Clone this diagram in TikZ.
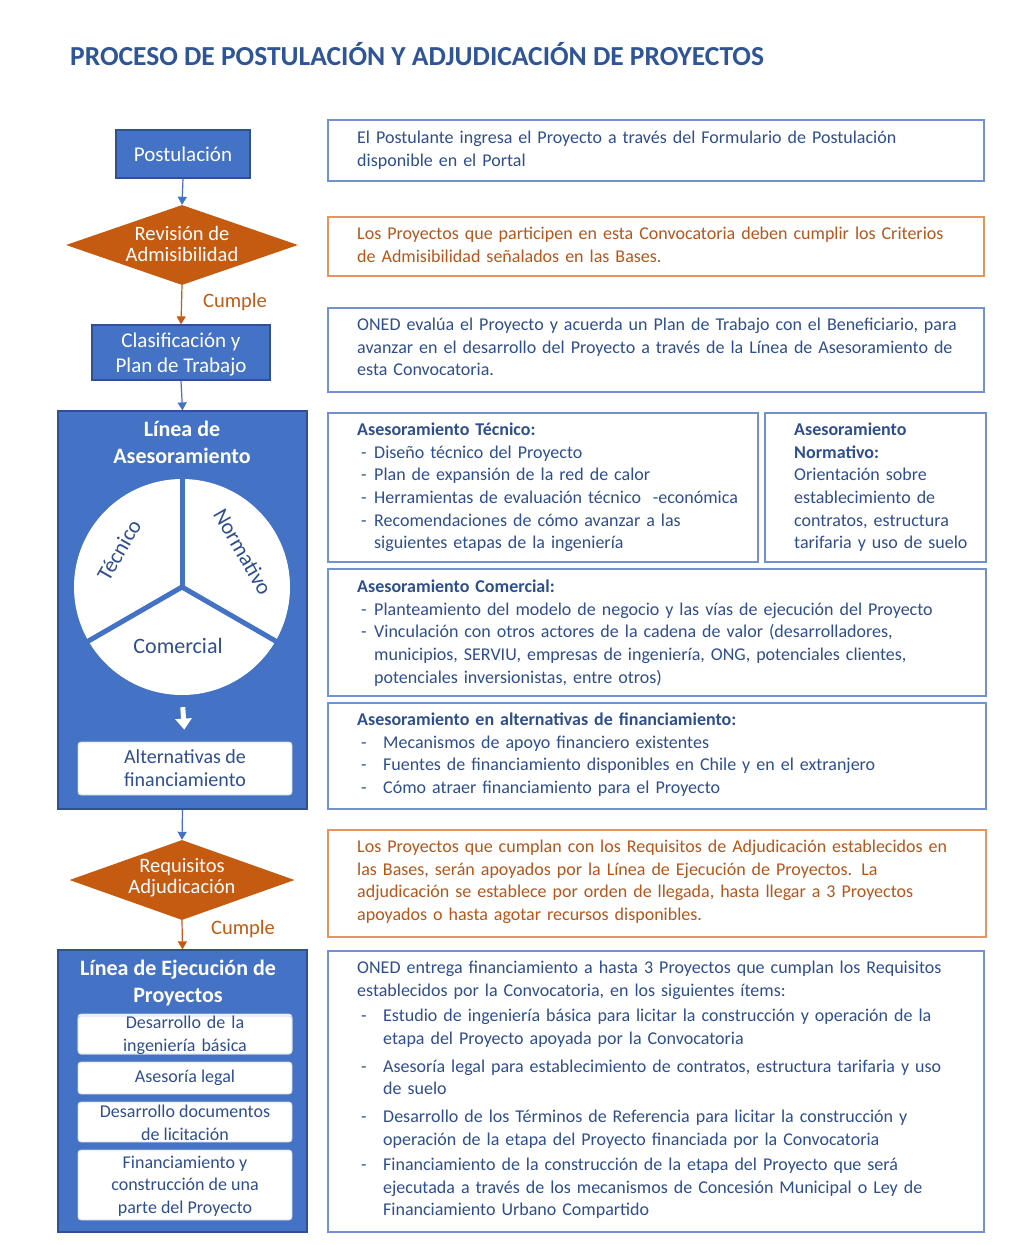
\documentclass[tikz,border=0pt]{standalone}
\usepackage{fontspec}
\setmainfont{Carlito}
\usetikzlibrary{shapes.geometric,arrows.meta,calc}
\definecolor{blu}{HTML}{4472C4}
\definecolor{bluedge}{HTML}{2F528F}
\definecolor{bluetxt}{HTML}{2F4E8E}
\definecolor{titl}{HTML}{2F5597}
\definecolor{org}{HTML}{C55A11}
\definecolor{orgtxt}{HTML}{B5561A}
\definecolor{rbline}{HTML}{7391CF}
\definecolor{orline}{HTML}{E39460}
\definecolor{wedge}{HTML}{C9D3E8}
\newcommand{\itm}[2]{\par\noindent\hangindent=#1\hangafter=1\makebox[#1][l]{\hspace{4pt}-}#2}
\newcommand{\nl}{\hfil\break}
\begin{document}
\begin{tikzpicture}[x=1pt,y=-1pt,
  bluebox/.style={rectangle, draw=bluedge, line width=1.2, fill=blu, text=white, align=center, inner sep=0, font=\fontsize{21}{24.5}\selectfont},
  dec/.style={diamond, fill=org, inner sep=0},
  dectext/.style={text=white, align=center, inner sep=0, font=\fontsize{20.5}{21}\selectfont},
  bigbox/.style={rectangle, draw=bluedge, line width=1.2, fill=blu, inner sep=0},
  bigtitle/.style={text=white, align=center, inner sep=0, font=\bfseries\fontsize{22}{27}\selectfont},
  wbox/.style={rectangle, rounded corners=3, fill=white, draw=wedge, line width=0.8, text=bluetxt, align=center, inner sep=0, font=\fontsize{18}{22.6}\selectfont, minimum width=214},
  rboxb/.style={rectangle, draw=rbline, line width=1.5, anchor=north west, inner sep=0},
  rboxo/.style={rectangle, draw=orline, line width=1.5, anchor=north west, inner sep=0},
  rtext/.style={anchor=north west, inner sep=0, text width=#1, align=left, font=\fontsize{18}{22.6}\selectfont, text=bluetxt},
  rtext/.default=620,
  barrow/.style={draw=blu, line width=1.2, -{Triangle[length=8pt,width=9pt]}},
  oarrow/.style={draw=org, line width=1.2, -{Triangle[length=8pt,width=9pt]}},
  cumple/.style={text=org, inner sep=0, font=\fontsize{20.5}{24}\selectfont},
  pielabel/.style={text=bluetxt, inner sep=0, font=\fontsize{22}{24}\selectfont}
]
\useasboundingbox (0,0) rectangle (1024,1245);
\fill[white] (0,0) rectangle (1024,1245);

% title
\node[anchor=base west, inner sep=0, text=titl, font=\bfseries\fontsize{27.5}{33}\selectfont] (title) at (70,65) {PROCESO DE POSTULACIÓN Y ADJUDICACIÓN DE PROYECTOS};

% ---------- left column ----------
\node[bluebox, minimum width=134, minimum height=48] (post) at (183,154) {Postulación};
\node[dec, minimum width=232, minimum height=80] (rev) at (182,245) {};
\node[dectext] (revt) at (182,243.5) {Revisión de\\Admisibilidad};
\node[bluebox, minimum width=178, minimum height=55] (clas) at (181,352.5) {};
\node[text=white, align=center, inner sep=0, font=\fontsize{21}{24.5}\selectfont] (clast) at (181,354.5) {Clasificación y\\Plan de Trabajo};
\node[cumple] (c1) at (235,302) {Cumple};

\draw[barrow] (post.south) -- (rev.north);
\draw[oarrow] (rev.south) -- (clas.north);

% Linea de asesoramiento
\node[bigbox, minimum width=249, minimum height=398] (ase) at (182.5,610) {};
\node[bigtitle] (aset) at (182,442.5) {Línea de\\Asesoramiento};
\node[circle, fill=white, minimum size=216, inner sep=0] (pie) at (182,587) {};
\foreach \a in {90,210,330}
  \draw[blu, line width=5, line cap=round] (pie.center) -- ($(pie.center)!1.05!(pie.\a)$);
\node[pielabel, rotate=60] (tec) at (119,550) {Técnico};
\node[pielabel, rotate=-60] (nor) at (243,552) {Normativo};
\node[pielabel] (com) at (178,646) {Comercial};
\node[wbox, minimum height=53, font=\fontsize{20}{23}\selectfont] (alt) at (185,768.5) {Alternativas de\\financiamiento};
\draw[white, line width=5, -{Triangle[length=11pt,width=16pt]}, shorten <=12pt, shorten >=12pt] (pie.south) -- (alt.north);

\draw[barrow] (clas.south) -- (ase.north);

% Requisitos
\node[dec, minimum width=225, minimum height=80] (req) at (182,880) {};
\node[dectext] (reqt) at (182,878) {Requisitos\\Adjudicación};
\node[cumple] (c2) at (243,929) {Cumple};
\draw[barrow] (ase.south) -- (req.north);

% Linea de ejecucion
\node[bigbox, minimum width=249, minimum height=282] (eje) at (182.5,1091) {};
\node[bigtitle] (ejet) at (178,982.5) {Línea de Ejecución de\\Proyectos};
\draw[oarrow] (req.south) -- (eje.north);
\node[wbox, minimum height=39] (e1) at (185,1033.5) {};
\node[wbox, text width=214, inner sep=0] (e1t) at (185,1035) {Desarrollo de la\\ingeniería básica};
\node[wbox, minimum height=32] (e2) at (185,1078) {Asesoría legal};
\node[wbox, minimum height=40] (e3) at (185,1122) {};
\node[wbox, draw=none, fill=none] (e3t) at (185,1123) {Desarrollo documentos\\de licitación};
\node[wbox, minimum height=70] (e4) at (185,1185) {};
\node[wbox, draw=none, fill=none] (e4t) at (185,1186) {Financiamiento y\\construcción de una\\parte del Proyecto};

% ---------- right column ----------
\node[rboxb, minimum width=656, minimum height=61] (r1) at (327,119) {};
\node[rtext] (t1) at (357,127.7) {\strut El Postulante ingresa el Proyecto a través del Formulario de Postulación\\disponible en el Portal};

\node[rboxo, minimum width=656, minimum height=59] (r2) at (327,216) {};
\node[rtext, text=orgtxt] (t2) at (357,223.7) {\strut Los Proyectos que participen en esta Convocatoria deben cumplir los Criterios\\de Admisibilidad señalados en las Bases.};

\node[rboxb, minimum width=656, minimum height=84] (r3) at (327,307) {};
\node[rtext] (t3) at (357,314.7) {\strut ONED evalúa el Proyecto y acuerda un Plan de Trabajo con el Beneficiario, para\\avanzar en el desarrollo del Proyecto a través de la Línea de Asesoramiento de\\esta Convocatoria.};

\node[rboxb, minimum width=430, minimum height=149] (r4a) at (327,412) {};
\node[rtext=390] (t4a) at (357,419.7) {\strut\textbf{Asesoramiento Técnico:}%
\itm{17pt}{Diseño técnico del Proyecto}%
\itm{17pt}{Plan de expansión de la red de calor}%
\itm{17pt}{Herramientas de evaluación técnico\ \ -económica}%
\itm{17pt}{Recomendaciones de cómo avanzar a las\nl siguientes etapas de la ingeniería}\par};

\node[rboxb, minimum width=221, minimum height=149] (r4b) at (764,412) {};
\node[rtext=190] (t4b) at (794,419.7) {\strut\textbf{Asesoramiento}\\\textbf{Normativo:}\\Orientación sobre\\establecimiento de\\contratos, estructura\\tarifaria y uso de suelo};

\node[rboxb, minimum width=658, minimum height=127] (r5) at (327,568) {};
\node[rtext] (t5) at (357,576.7) {\strut\textbf{Asesoramiento Comercial:}%
\itm{17pt}{Planteamiento del modelo de negocio y las vías de ejecución del Proyecto}%
\itm{17pt}{Vinculación con otros actores de la cadena de valor (desarrolladores,\nl municipios, SERVIU, empresas de ingeniería, ONG, potenciales clientes,\nl potenciales inversionistas, entre otros)}\par};

\node[rboxb, minimum width=658, minimum height=106] (r6) at (327,702) {};
\node[rtext] (t6) at (357,709.7) {\strut\textbf{Asesoramiento en alternativas de financiamiento:}%
\itm{26pt}{Mecanismos de apoyo financiero existentes}%
\itm{26pt}{Fuentes de financiamiento disponibles en Chile y en el extranjero}%
\itm{26pt}{Cómo atraer financiamiento para el Proyecto}\par};

\node[rboxo, minimum width=658, minimum height=107] (r7) at (327,829) {};
\node[rtext, text=orgtxt] (t7) at (357,836.7) {\strut Los Proyectos que cumplan con los Requisitos de Adjudicación establecidos en\\las Bases, serán apoyados por la Línea de Ejecución de Proyectos. La\\adjudicación se establece por orden de llegada, hasta llegar a 3 Proyectos\\apoyados o hasta agotar recursos disponibles.};

\node[rboxb, minimum width=656, minimum height=281] (r8) at (327,950) {};
\node[rtext] (t8) at (357,957.7) {\strut ONED entrega financiamiento a hasta 3 Proyectos que cumplan los Requisitos\nl establecidos por la Convocatoria, en los siguientes ítems:\par\vspace{2.5pt}%
\itm{26pt}{Estudio de ingeniería básica para licitar la construcción y operación de la\nl etapa del Proyecto apoyada por la Convocatoria}\par\vspace{5.5pt}%
\itm{26pt}{Asesoría legal para establecimiento de contratos, estructura tarifaria y uso\nl de suelo}\par\vspace{5.5pt}%
\itm{26pt}{Desarrollo de los Términos de Referencia para licitar la construcción y\nl operación de la etapa del Proyecto financiada por la Convocatoria}\par\vspace{2.5pt}%
\itm{26pt}{Financiamiento de la construcción de la etapa del Proyecto que será\nl ejecutada a través de los mecanismos de Concesión Municipal o Ley de\nl Financiamiento Urbano Compartido}\par};

\end{tikzpicture}
\end{document}
